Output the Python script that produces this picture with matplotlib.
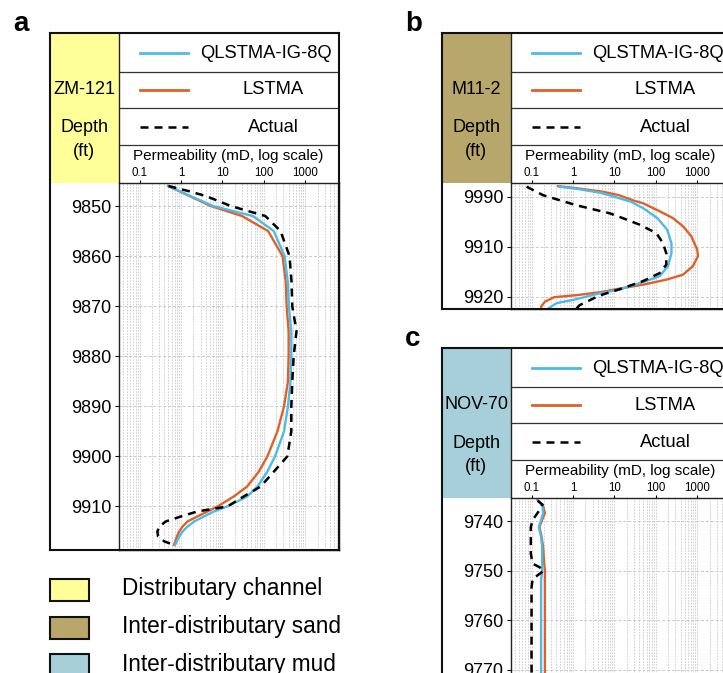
import matplotlib
matplotlib.use("Agg")
import matplotlib.pyplot as plt
from matplotlib.patches import Rectangle

plt.rcParams['font.family'] = ['Liberation Sans', 'DejaVu Sans']

W, H = 723, 673

# ---- data ----
# panel a, well ZM-121
a_depth = [9846, 9848, 9850, 9852, 9855, 9860, 9865, 9870, 9875, 9880, 9885, 9890,
           9895, 9900, 9903, 9906, 9908, 9910, 9911, 9912, 9913, 9914, 9915, 9916, 9917.7]
a_qlstma = [0.49, 1.7, 6, 55, 175, 320, 380, 405, 465, 465, 445, 385,
            310, 188, 123, 71, 40, 13.3, 6.3, 3.6, 2.1, 1.45, 1.1, 0.91, 0.72]
a_lstma = [0.49, 1.6, 5.3, 30, 128, 285, 340, 358, 400, 400, 385, 310,
           215, 123, 77, 40, 19, 7.7, 4.4, 2.5, 1.45, 1.1, 0.91, 0.8, 0.68]
a_act_depth = [9846, 9847, 9848, 9850, 9852, 9855, 9860, 9865, 9870, 9875, 9880, 9885, 9890,
               9895, 9900, 9903, 9906, 9908, 9910, 9911, 9912, 9913, 9914, 9915, 9916, 9917, 9917.7]
a_actual = [0.5, 1.5, 4, 16, 110, 255, 420, 470, 490, 620, 530, 490, 465,
            465, 372, 178, 85, 33, 13.3, 2.5, 1.0, 0.43, 0.30, 0.27, 0.28, 0.40, 0.69]

# panel b, well M11-2
b_lstma_depth = [9897.9, 9898.3, 9899.0, 9899.7, 9900.8, 9901.3, 9902.9, 9904.3, 9905.9, 9907.9,
                 9910.6, 9911.9, 9913.9, 9915.6, 9916.6, 9917.6, 9918.4, 9919.1, 9919.7, 9920.1,
                 9921.0, 9922.0, 9922.5]
b_lstma = [0.44, 1.2, 5.2, 13, 30, 49, 124, 262, 455, 724,
           1010, 1050, 790, 455, 180, 49, 13, 4.5, 1.2, 0.35,
           0.21, 0.17, 0.17]
b_q_depth = [9898.0, 9898.4, 9899.3, 9900.3, 9901.0, 9902.3, 9904.3, 9906.6, 9909.3, 9911.3,
             9913.9, 9915.9, 9917.1, 9918.0, 9918.6, 9919.3, 9920.5, 9921.3, 9922.5]
b_qlstma = [0.48, 1.2, 5.2, 13, 25, 50, 110, 190, 240, 240,
            198, 124, 49, 22, 13, 4.5, 1.2, 0.4, 0.24]
b_act_depth = [9898.0, 9899.7, 9901.7, 9903.3, 9904.0, 9905.6, 9907.3, 9909.3, 9911.3, 9913.6,
               9915.3, 9916.9, 9918.5, 9919.5, 9920.3, 9921.7, 9922.4]
b_actual = [0.076, 0.19, 1.2, 7.6, 13, 41, 104, 150, 180, 180,
            124, 49, 13.5, 5.5, 3.2, 1.45, 1.2]

# panel c, well NOV-70
c_depth = [9735.7, 9737.0, 9738.4, 9739.8, 9741.2, 9743.2, 9745.2, 9748.0, 9750.0, 9752.0, 9760.0, 9775.0]
c_qlstma = [0.14, 0.185, 0.19, 0.17, 0.15, 0.17, 0.18, 0.18, 0.18, 0.17, 0.17, 0.17]
c_lstma = [0.14, 0.19, 0.21, 0.18, 0.155, 0.175, 0.19, 0.2, 0.21, 0.21, 0.21, 0.21]
c_act_depth = [9735.9, 9736.7, 9738.0, 9739.8, 9741.2, 9746.6, 9748.6, 9749.3, 9750.0, 9750.7,
               9751.7, 9753.4, 9775.0]
c_actual = [0.14, 0.185, 0.15, 0.106, 0.096, 0.096, 0.106, 0.154, 0.2, 0.154,
            0.106, 0.1, 0.1]

series_names = ['QLSTMA-IG-8Q', 'LSTMA', 'Actual']
facies = ['Distributary channel', 'Inter-distributary sand', 'Inter-distributary mud']
facies_colors = ['#FFFF99', '#B8A76A', '#A7CFDA']

BLUE = '#4DBBE8'
ORANGE = '#DF6129'


def rect(x0, y0, x1, y1):
    return [x0 / W, 1 - y1 / H, (x1 - x0) / W, (y1 - y0) / H]


fig = plt.figure(figsize=(W / 100, H / 100), dpi=100)


def panel(letter, left, top, bottom, well, color, ylim, yticks, ylabels, data):
    right = left + 289
    # header
    hd = fig.add_axes(rect(left, top, right, top + 150))
    hd.set_xlim(0, 289)
    hd.set_ylim(150, 0)
    hd.axis('off')
    hd.add_patch(Rectangle((0, 0), 68.5, 150, facecolor=color, edgecolor='none'))
    hd.plot([68.5, 68.5], [0, 150], color='#222222', lw=1.0)
    for yy in [39, 75, 112]:
        hd.plot([68.5, 289], [yy, yy], color='#333333', lw=0.9)
    hd.text(34, 56, well, ha='center', va='center', fontsize=13)
    hd.text(34, 95, 'Depth', ha='center', va='center', fontsize=13)
    hd.text(34, 118, '(ft)', ha='center', va='center', fontsize=13)
    rows = [20, 57, 94]
    hd.plot([90, 138], [rows[0], rows[0]], color=BLUE, lw=2)
    hd.plot([90, 138], [rows[1], rows[1]], color=ORANGE, lw=2)
    hd.plot([90, 138], [rows[2], rows[2]], color='black', lw=1.8, ls=(0, (3.2, 2.4)))
    hd.text(216, rows[0], series_names[0], ha='center', va='center', fontsize=13.2)
    hd.text(223, rows[1], series_names[1], ha='center', va='center', fontsize=13.2)
    hd.text(223, rows[2], series_names[2], ha='center', va='center', fontsize=13.2)
    hd.text(178.5, 123, 'Permeability (mD, log scale)', ha='center', va='center', fontsize=11)

    # data axes
    ax = fig.add_axes(rect(left + 68.5, top + 150, right, bottom))
    ax.set_xscale('log')
    ax.set_xlim(0.031, 6600)
    ax.set_ylim(*ylim)
    ax.set_yticks(yticks)
    ax.set_yticklabels(ylabels)
    ax.set_xticks([0.1, 1, 10, 100, 1000])
    ax.set_xticklabels(['0.1', '1', '10', '100', '1000'])
    ax.xaxis.tick_top()
    ax.tick_params(axis='x', which='major', length=2.5, direction='out', labelsize=8.3, pad=0.5)
    ax.tick_params(axis='x', which='minor', length=0)
    ax.tick_params(axis='y', length=3, direction='out', labelsize=13, pad=2)
    ax.grid(True, which='both', axis='x', color='#c9c9c9', lw=0.6, ls=(0, (2, 1.5)))
    ax.grid(True, which='major', axis='y', color='#c9c9c9', lw=0.7, ls=(0, (3, 2)))
    ax.set_axisbelow(True)
    for s in ax.spines.values():
        s.set_linewidth(1.0)
        s.set_color('#222222')

    (qd, qv), (ld, lv), (ad, av) = data
    ax.plot(lv, ld, color=ORANGE, lw=1.7)
    ax.plot(qv, qd, color=BLUE, lw=1.7)
    ax.plot(av, ad, color='black', lw=1.8, ls=(0, (3.2, 2.4)))

    # outer frame
    fr = fig.add_axes(rect(left, top, right, bottom))
    fr.patch.set_alpha(0)
    fr.set_xticks([])
    fr.set_yticks([])
    for s in fr.spines.values():
        s.set_linewidth(1.5)
        s.set_color('#111111')

    fig.text(left - 37, H - top + 2, letter, fontsize=20, fontweight='bold',
             ha='left', va='baseline', transform=None)


panel('a', 50, 33, 550, 'ZM-121', facies_colors[0], (9918.7, 9845.4),
      [9850, 9860, 9870, 9880, 9890, 9900, 9910],
      ['9850', '9860', '9870', '9880', '9890', '9900', '9910'],
      [(a_depth, a_qlstma), (a_depth, a_lstma), (a_act_depth, a_actual)])

panel('b', 442, 33, 309, 'M11-2', facies_colors[1], (9922.46, 9897.26),
      [9900, 9910, 9920], ['9990', '9910', '9920'],
      [(b_q_depth, b_qlstma), (b_lstma_depth, b_lstma), (b_act_depth, b_actual)])

panel('c', 442, 348, 680, 'NOV-70', facies_colors[2], (9772.1, 9735.35),
      [9740, 9750, 9760, 9770], ['9740', '9750', '9760', '9770'],
      [(c_depth, c_qlstma), (c_depth, c_lstma), (c_act_depth, c_actual)])

# facies legend
for i, (name, col) in enumerate(zip(facies, facies_colors)):
    y0 = 579 + i * 37.5
    fig.patches.append(Rectangle((50 / W, 1 - (y0 + 22) / H), 39 / W, 22 / H,
                                 transform=fig.transFigure, facecolor=col,
                                 edgecolor='#111111', lw=1.5))
    fig.text(122 / W, 1 - (y0 + 10) / H, name, fontsize=16.3, ha='left', va='center')

fig.savefig('out.png', dpi=100)
